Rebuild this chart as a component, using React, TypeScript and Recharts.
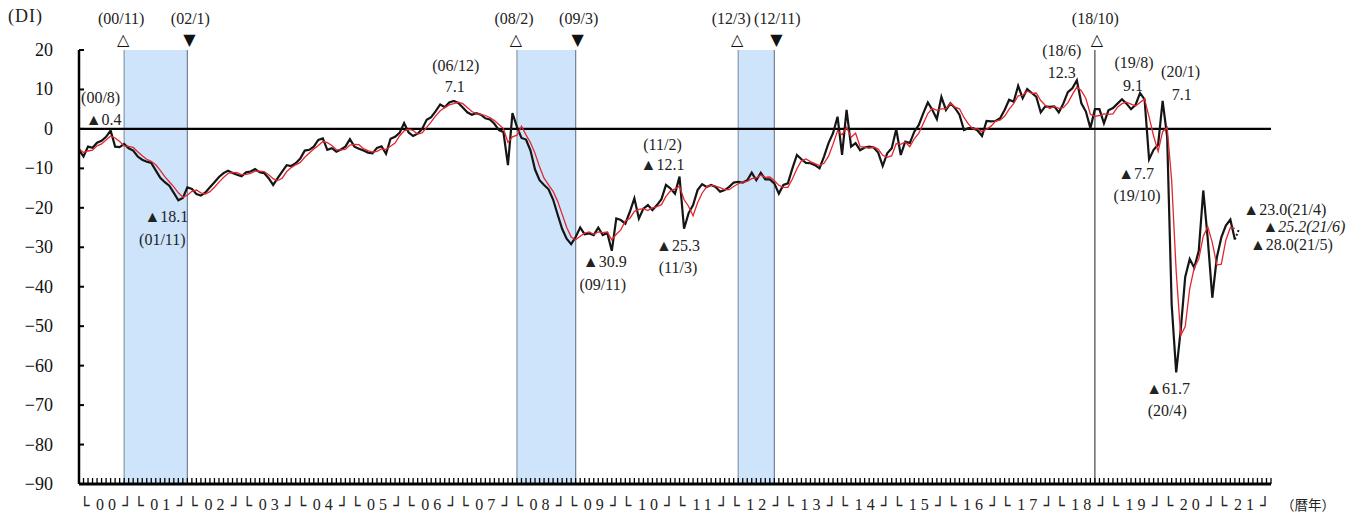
import React from "react";
import {
  ComposedChart,
  Line,
  XAxis,
  YAxis,
  ReferenceArea,
  ReferenceLine,
  ReferenceDot,
} from "recharts";

// monthly DI, 2000/1 .. 2021/6 (last value preliminary)
const monthlyDI = [
  // 2000
  -5.3, -7.0, -4.5, -4.8, -3.5, -3.0, -2.0, -0.4, -4.5, -4.6, -3.8, -4.9,
  // 2001
  -5.5, -7.0, -7.8, -8.3, -8.6, -10.5, -12.4, -13.5, -14.4, -16.2, -18.1, -17.5,
  // 2002
  -14.8, -15.2, -16.5, -16.9, -16.1, -14.8, -13.5, -12.2, -11.2, -10.6, -11.2, -11.6,
  // 2003
  -12.0, -11.0, -10.8, -10.2, -11.0, -11.2, -12.5, -14.2, -12.5, -10.8, -9.2, -9.4,
  // 2004
  -8.7, -7.5, -5.5, -5.3, -4.5, -2.8, -2.4, -5.3, -4.9, -5.8, -5.2, -4.5,
  // 2005
  -2.6, -4.5, -5.0, -5.5, -6.0, -6.2, -4.8, -4.4, -6.3, -2.5, -2.0, -1.0,
  // 2006
  1.5, -0.9, -1.8, -1.2, 0.0, 2.3, 3.0, 4.5, 6.2, 5.5, 6.7, 7.1,
  // 2007
  6.6, 5.4, 4.2, 3.6, 4.0, 3.6, 2.7, 2.4, 1.3, -0.3, -0.8, -9.2,
  // 2008
  4.0, 0.5, -2.3, -2.7, -5.5, -10.3, -13.0, -14.2, -15.3, -17.9, -21.7, -25.3,
  // 2009
  -27.8, -29.2, -27.4, -25.0, -26.7, -26.5, -26.9, -25.0, -26.9, -26.4, -30.9, -22.7,
  // 2010
  -23.1, -24.0, -21.0, -17.6, -22.7, -20.2, -19.3, -20.6, -19.3, -17.8, -14.2, -15.1,
  // 2011
  -16.4, -12.1, -25.3, -21.4, -19.3, -15.5, -14.0, -14.7, -14.2, -14.7, -15.9, -15.5,
  // 2012
  -14.7, -13.6, -13.4, -13.6, -13.0, -11.1, -13.0, -11.1, -12.8, -12.8, -13.8, -16.4,
  // 2013
  -14.2, -13.8, -10.0, -6.6, -7.7, -8.6, -8.7, -9.2, -10.0, -7.0, -3.6, -1.1,
  // 2014
  3.1, -6.6, 4.8, -4.5, -3.6, -5.4, -4.7, -4.5, -4.7, -6.0, -9.4, -6.2,
  // 2015
  -4.9, -0.1, -6.6, -3.2, -3.6, -0.7, 1.0, 4.0, 6.7, 4.8, 2.5, 8.1,
  // 2016
  4.8, 6.5, 5.3, 3.6, -0.3, 0.2, 0.2, -0.4, -1.8, 2.0, 1.9, 2.0,
  // 2017
  2.7, 4.8, 7.4, 6.9, 10.9, 7.8, 10.1, 9.1, 8.2, 4.2, 5.7, 5.6,
  // 2018
  5.7, 4.2, 6.4, 9.3, 10.3, 12.3, 6.5, 4.4, 0.2, 5.0, 5.0, 1.4,
  // 2019
  4.7, 5.3, 6.4, 7.5, 6.4, 5.0, 6.1, 9.1, 7.5, -7.7, -5.3, -4.0,
  // 2020
  7.1, -2.0, -44.5, -61.7, -51.0, -37.5, -33.0, -35.2, -30.9, -15.6, -28.0, -42.8,
  // 2021
  -32.6, -27.5, -24.5, -23.0, -28.0, -25.2,
];

// red line (3-month moving average), 2000/1 .. 2021/5
const movingAvg = [
  -5.0, -6.0, -5.6, -5.4, -4.3, -3.8, -2.8, -1.8, -2.3, -3.2, -4.3, -4.4,
  -4.7, -5.8, -6.8, -7.7, -8.2, -9.1, -10.5, -12.1, -13.4, -14.7, -16.2, -17.3,
  -16.8, -15.8, -15.5, -16.2, -16.5, -15.9, -14.8, -13.5, -12.3, -11.3, -11.0, -11.1,
  -11.6, -11.5, -11.3, -10.7, -10.7, -10.8, -11.6, -12.6, -13.1, -12.5, -10.8, -9.8,
  -9.1, -8.5, -7.2, -6.1, -5.1, -4.2, -3.2, -3.5, -4.2, -5.3, -5.3, -5.2,
  -4.1, -3.9, -4.0, -5.0, -5.5, -5.9, -5.7, -5.1, -5.2, -4.4, -3.6, -1.8,
  -0.5, -0.1, -0.4, -1.3, -1.0, 0.4, 1.8, 3.3, 4.6, 5.4, 6.1, 6.4,
  6.8, 6.4, 5.4, 4.4, 3.9, 3.7, 3.4, 2.9, 2.1, 1.1, 0.1, -3.4,
  -2.0, -1.6, 0.7, -1.5, -3.5, -6.2, -9.6, -12.5, -14.2, -15.8, -18.3, -21.6,
  -24.9, -27.4, -28.1, -27.2, -26.4, -26.1, -26.7, -26.1, -26.3, -26.1, -28.1, -26.7,
  -25.6, -23.3, -22.7, -20.9, -20.4, -20.2, -20.7, -20.0, -19.7, -19.2, -17.1, -15.7,
  -15.2, -14.5, -17.9, -19.6, -22.0, -18.7, -16.3, -14.7, -14.3, -14.5, -14.9, -15.4,
  -15.4, -14.6, -13.9, -13.5, -13.3, -12.6, -12.4, -11.7, -12.3, -12.2, -13.1, -14.3,
  -14.8, -14.8, -12.7, -10.1, -8.1, -7.6, -8.3, -8.8, -9.3, -8.7, -6.9, -3.9,
  -0.5, -1.5, 0.4, -2.1, -1.1, -4.5, -4.6, -4.9, -4.6, -5.1, -6.7, -7.2,
  -6.8, -3.7, -3.9, -3.3, -4.5, -2.5, -1.1, 1.4, 3.9, 5.2, 4.7, 5.1,
  5.1, 6.5, 5.5, 5.1, 2.9, 1.2, 0.0, 0.0, -0.7, -0.1, 0.7, 2.0,
  2.2, 3.2, 5.0, 6.4, 8.4, 8.5, 9.6, 9.0, 9.1, 7.2, 6.0, 5.2,
  5.7, 5.2, 5.4, 6.6, 8.7, 10.6, 9.7, 7.7, 3.7, 3.2, 3.4, 3.8,
  3.7, 3.8, 5.5, 6.4, 6.8, 6.3, 5.8, 6.7, 7.6, 3.0, -1.8, -5.7,
  -0.7, 0.4, -13.1, -36.1, -52.4, -50.1, -40.5, -35.2, -33.0, -27.2, -24.8, -28.8,
  -34.5, -34.3, -28.2, -25.0, -25.2,
];

// recession periods (month index from 2000/1)
const recessions = [
  { from: 10, to: 24, fromText: "(00/11)", toText: "(02/1)" },
  { from: 97, to: 110, fromText: "(08/2)", toText: "(09/3)" },
  { from: 146, to: 154, fromText: "(12/3)", toText: "(12/11)" },
];
const latestPeak = { at: 225, text: "(18/10)" };

const yTicks = [20, 10, 0, -10, -20, -30, -40, -50, -60, -70, -80, -90];
const yearLabels = [
  "00", "01", "02", "03", "04", "05", "06", "07", "08", "09", "10",
  "11", "12", "13", "14", "15", "16", "17", "18", "19", "20", "21",
];

// annotated months and their texts
const notes = [
  { m: 7, texts: ["(00/8)", "▲0.4"] },
  { m: 22, texts: ["▲18.1", "(01/11)"] },
  { m: 83, texts: ["(06/12)", "7.1"] },
  { m: 118, texts: ["▲30.9", "(09/11)"] },
  { m: 133, texts: ["(11/2)", "▲12.1"] },
  { m: 134, texts: ["▲25.3", "(11/3)"] },
  { m: 221, texts: ["(18/6)", "12.3"] },
  { m: 235, texts: ["(19/8)", "9.1"] },
  { m: 240, texts: ["(20/1)", "7.1"] },
  { m: 237, texts: ["▲7.7", "(19/10)"] },
  { m: 243, texts: ["▲61.7", "(20/4)"] },
  { m: 255, texts: ["▲23.0(21/4)"] },
  { m: 257, texts: ["▲25.2(21/6)"] },
  { m: 256, texts: ["▲28.0(21/5)"] },
];

// text offsets (px) for each note line, same order as notes
const noteLayout = [
  [{ dx: -10, dy: -33 }, { dx: -7, dy: -11 }],
  [{ dx: -12, dy: 16 }, { dx: -16, dy: 39 }],
  [{ dx: 2, dy: -35 }, { dx: 1, dy: -14 }],
  [{ dx: -7, dy: 11 }, { dx: -9, dy: 34 }],
  [{ dx: -17, dy: -32 }, { dx: -17, dy: -12 }],
  [{ dx: -6, dy: 17 }, { dx: -6, dy: 39 }],
  [{ dx: -15, dy: -30 }, { dx: -15, dy: -8 }],
  [{ dx: -6, dy: -31 }, { dx: -7, dy: -8 }],
  [{ dx: 18, dy: -29 }, { dx: 19, dy: -6 }],
  [{ dx: -13, dy: 14 }, { dx: -12, dy: 36 }],
  [{ dx: -8, dy: 16 }, { dx: -9, dy: 38 }],
  [{ dx: 13, dy: -10, anchor: "start" }],
  [{ dx: 23, dy: -2, anchor: "start", italic: true }],
  [{ dx: 15, dy: 5, anchor: "start" }],
];

const W = 1347;
const H = 515;
const MARGIN = { top: 50, right: 76, left: 19, bottom: 1 };
const Y_AXIS_W = 60;
const X_AXIS_H = 30;
const SPAN = 264;
const PLOT_LEFT = MARGIN.left + Y_AXIS_W;
const PLOT_BOTTOM = H - MARGIN.bottom - X_AXIS_H;
const PX_PER_MONTH = (W - PLOT_LEFT - MARGIN.right) / SPAN;
const SERIF = '"Liberation Serif", "DejaVu Serif", serif';
const SANS = '"DejaVu Sans", sans-serif';

const lastIdx = monthlyDI.length - 1;
const rows = monthlyDI.map((v, m) => ({
  m,
  di: m < lastIdx ? v : null,
  prelim: m >= lastIdx - 1 ? v : null,
  avg: m < movingAvg.length ? movingAvg[m] : null,
}));
const monthTicks = Array.from({ length: SPAN + 1 }, (_, i) => i);

function fmt(v: number) {
  return v < 0 ? "\u2212" + Math.abs(v) : String(v);
}

function ValueTick(props: any) {
  const { y, payload } = props;
  return (
    <g>
      <line x1={PLOT_LEFT} x2={PLOT_LEFT + 5} y1={y} y2={y} stroke="#000" strokeWidth={2} />
      <text
        x={PLOT_LEFT - 26}
        y={y}
        textAnchor="end"
        dominantBaseline="central"
        fontFamily={SERIF}
        fontSize={18}
        fill="#111"
      >
        {fmt(payload.value)}
      </text>
    </g>
  );
}

function MonthTick(props: any) {
  const { x, payload } = props;
  const m = payload.value;
  const half = 6 * PX_PER_MONTH;
  const base = PLOT_BOTTOM + 26;
  return (
    <g>
      <line x1={x} x2={x} y1={PLOT_BOTTOM} y2={PLOT_BOTTOM - 6} stroke="#000" strokeWidth={1.3} />
      {m % 12 === 6 && (
        <g fontFamily={SERIF} fill="#222">
          <text x={x - half + 1} y={base + 1} fontSize={16} fontFamily={SANS} textAnchor="start">
            {"\u2514"}
          </text>
          <text x={x + 2} y={base} fontSize={16} textAnchor="middle" letterSpacing={4}>
            {yearLabels[(m - 6) / 12]}
          </text>
          <text x={x + half - 1} y={base + 1} fontSize={16} fontFamily={SANS} textAnchor="end">
            {"\u2518"}
          </text>
        </g>
      )}
    </g>
  );
}

function MarkLabel(props: any) {
  const { viewBox, text, glyph, dx } = props;
  if (!viewBox) return null;
  const x = viewBox.x;
  const top = viewBox.y;
  return (
    <g>
      <text
        x={x + dx}
        y={top - 32}
        textAnchor="middle"
        dominantBaseline="central"
        fontFamily={SERIF}
        fontSize={16}
        fill="#222"
      >
        {text}
      </text>
      <text
        x={x + (dx > 0 ? 2 : -1)}
        y={top - 11}
        textAnchor="middle"
        dominantBaseline="central"
        fontFamily={SANS}
        fontSize={16}
        fill="#111"
      >
        {glyph}
      </text>
    </g>
  );
}

function NoteLabel(props: any) {
  const { viewBox, texts, layout } = props;
  if (!viewBox) return null;
  const cx = viewBox.x + (viewBox.width || 0) / 2;
  const cy = viewBox.y + (viewBox.height || 0) / 2;
  return (
    <g>
      {texts.map((t: string, i: number) => {
        const l = layout[i];
        return (
          <text
            key={i}
            x={cx + l.dx}
            y={cy + l.dy}
            textAnchor={l.anchor || "middle"}
            dominantBaseline="central"
            fontFamily={SERIF}
            fontStyle={l.italic ? "italic" : "normal"}
            fontSize={16}
            fill="#222"
          >
            {t}
          </text>
        );
      })}
    </g>
  );
}

export default function App() {
  return (
    <div
      style={{
        position: "absolute",
        left: 0,
        top: 0,
        width: W,
        height: H,
        background: "#fff",
        overflow: "hidden",
      }}
    >
      <ComposedChart width={W} height={H} data={rows} margin={MARGIN}>
        {recessions.map((r) => (
          <ReferenceArea
            key={"a" + r.from}
            x1={r.from}
            x2={r.to}
            y1={-90}
            y2={20}
            fill="#cde4fb"
            fillOpacity={1}
            stroke="none"
          />
        ))}
        {recessions.map((r) => (
          <ReferenceLine
            key={"s" + r.from}
            x={r.from}
            stroke="#8797aa"
            strokeWidth={1.2}
            label={<MarkLabel text={r.fromText} glyph={"\u25B3"} dx={r.from === 146 ? -7 : -3} />}
          />
        ))}
        {recessions.map((r) => (
          <ReferenceLine
            key={"e" + r.to}
            x={r.to}
            stroke="#6f8096"
            strokeWidth={1.2}
            label={<MarkLabel text={r.toText} glyph={"\u25BC"} dx={3} />}
          />
        ))}
        <ReferenceLine
          x={latestPeak.at}
          stroke="#222"
          strokeWidth={1}
          label={<MarkLabel text={latestPeak.text} glyph={"\u25B3"} dx={0.5} />}
        />
        <XAxis
          dataKey="m"
          type="number"
          domain={[0, SPAN]}
          ticks={monthTicks}
          interval={0}
          height={X_AXIS_H}
          tickLine={false}
          axisLine={{ stroke: "#000", strokeWidth: 3 }}
          tick={<MonthTick />}
        />
        <YAxis
          type="number"
          domain={[-90, 20]}
          ticks={yTicks}
          interval={0}
          width={Y_AXIS_W}
          tickLine={false}
          axisLine={{ stroke: "#000", strokeWidth: 2.5 }}
          tick={<ValueTick />}
        />
        <ReferenceLine y={0} stroke="#000" strokeWidth={2.2} />
        <Line
          dataKey="di"
          stroke="#151515"
          strokeWidth={2.2}
          dot={false}
          isAnimationActive={false}
        />
        <Line
          dataKey="prelim"
          stroke="#151515"
          strokeWidth={2}
          strokeDasharray="2 2"
          dot={false}
          isAnimationActive={false}
        />
        <Line
          dataKey="avg"
          stroke="#e5262e"
          strokeWidth={1.3}
          dot={false}
          isAnimationActive={false}
        />
        {notes.map((n, i) => (
          <ReferenceDot
            key={"n" + n.m}
            x={n.m}
            y={monthlyDI[n.m]}
            r={0}
            fill="none"
            stroke="none"
            label={<NoteLabel texts={n.texts} layout={noteLayout[i]} />}
          />
        ))}
      </ComposedChart>
      <div
        style={{
          position: "absolute",
          left: 8,
          top: 6,
          fontFamily: SERIF,
          fontSize: 18,
          letterSpacing: 1,
          color: "#222",
        }}
      >
        (DI)
      </div>
      <div
        style={{
          position: "absolute",
          left: 1281,
          top: 494,
          fontFamily: '"Noto Sans CJK JP", sans-serif',
          fontSize: 13.5,
          color: "#222",
        }}
      >
        （暦年）
      </div>
    </div>
  );
}
